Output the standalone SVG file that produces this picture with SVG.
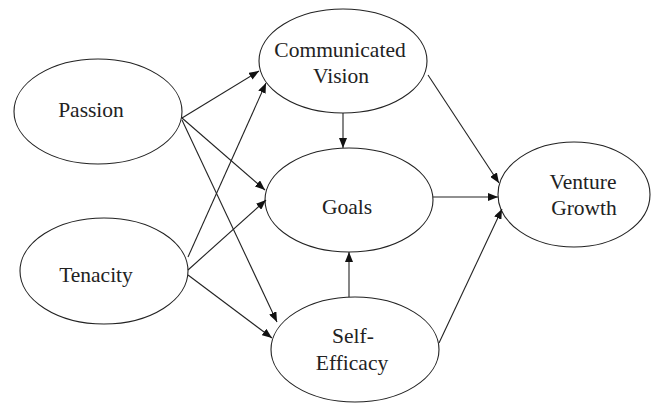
<svg xmlns="http://www.w3.org/2000/svg" width="652" height="403" viewBox="0 0 652 403">
<defs>
<style>
.n ellipse{fill:#fff;stroke:#222;stroke-width:1.1}
.n text{font-size:21.5px;fill:#222;text-anchor:middle}
#edges line{stroke:#222;stroke-width:1.1;marker-end:url(#ah)}
</style>
<marker id="ah" viewBox="0 0 10 8" refX="10" refY="4" markerWidth="10" markerHeight="8" markerUnits="userSpaceOnUse" orient="auto">
<path d="M0,0 L10,4 L0,8 Z" fill="#111"/>
</marker>
</defs>
<rect width="652" height="403" fill="#fff"/>
<g font-family="'Liberation Serif', 'Times New Roman', serif">
<g id="passion" class="n"><ellipse cx="98" cy="111.5" rx="84" ry="52.5"/><text x="91" y="117">Passion</text></g>
<g id="tenacity" class="n"><ellipse cx="104" cy="271" rx="84" ry="53"/><text x="96" y="282">Tenacity</text></g>
<g id="vision" class="n"><ellipse cx="343" cy="61" rx="84" ry="52"/><text x="340" y="57">Communicated</text><text x="341" y="83">Vision</text></g>
<g id="goals" class="n"><ellipse cx="349" cy="200" rx="84" ry="52"/><text x="347" y="214">Goals</text></g>
<g id="selfefficacy" class="n"><ellipse cx="355" cy="349.5" rx="84" ry="52.5"/><text x="353" y="343">Self-</text><text x="352" y="370">Efficacy</text></g>
<g id="venture" class="n"><ellipse cx="574" cy="194.5" rx="76" ry="52.5"/><text x="583" y="189">Venture</text><text x="584" y="215">Growth</text></g>
</g>
<g id="edges">
<line x1="182" y1="118" x2="259" y2="71"/>
<line x1="182" y1="118" x2="265" y2="190"/>
<line x1="182" y1="120" x2="277" y2="322"/>
<line x1="188" y1="257" x2="266" y2="83"/>
<line x1="188" y1="270" x2="266" y2="200"/>
<line x1="188" y1="275" x2="272" y2="338"/>
<line x1="343" y1="113" x2="343" y2="148"/>
<line x1="349" y1="297" x2="349" y2="252"/>
<line x1="433" y1="197" x2="498" y2="197"/>
<line x1="428" y1="75" x2="499" y2="183"/>
<line x1="439" y1="343" x2="502" y2="209"/>
</g>
</svg>
